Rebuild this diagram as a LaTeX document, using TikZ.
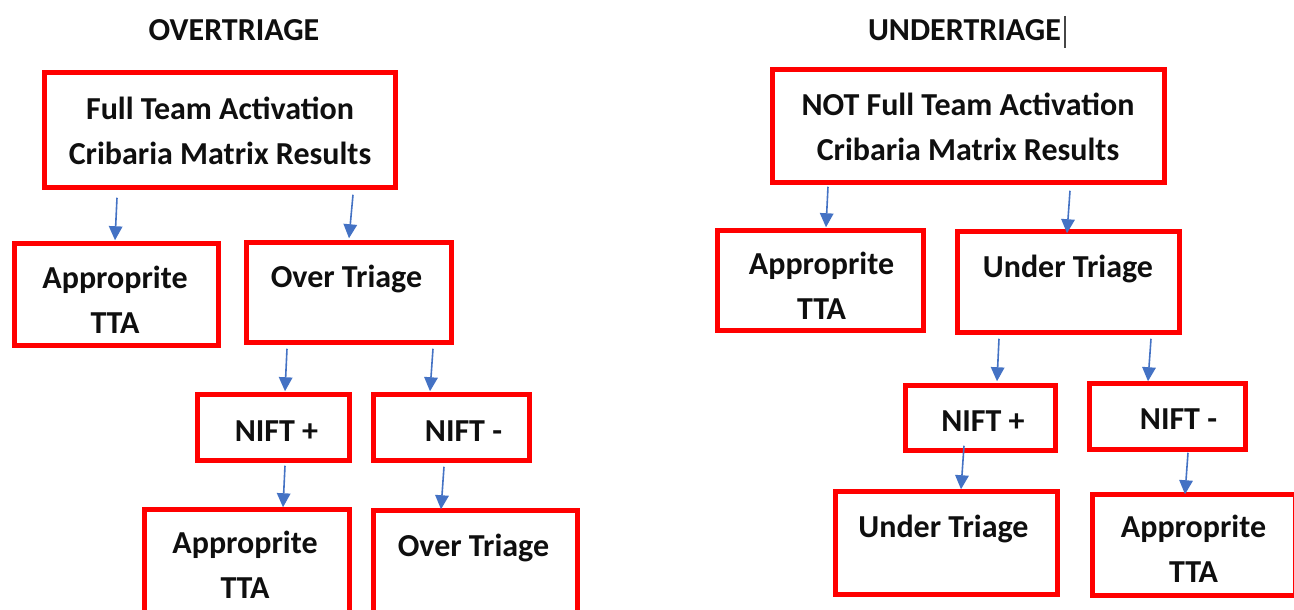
\documentclass[tikz,border=0pt]{standalone}
\usepackage{fontspec}
\setmainfont{Carlito}
\usetikzlibrary{arrows.meta,calc}
\definecolor{boxred}{RGB}{255,0,0}
\definecolor{arrblue}{RGB}{68,114,196}
\definecolor{txt}{RGB}{15,15,15}
\definecolor{cursorgray}{RGB}{70,70,70}
\begin{document}
\begin{tikzpicture}[x=1pt,y=-1pt,
  box/.style={draw=boxred,line width=5.5pt,inner sep=0pt,line join=miter},
  lbl/.style={font=\fontsize{32}{45}\selectfont\bfseries,inner sep=0pt,anchor=base,text=txt},
  arr/.style={draw=arrblue,line width=1.6pt,-{Triangle[length=14pt,width=13.5pt]}}]
\fill[white] (0,0) rectangle (1294,610);
\useasboundingbox (0,0) rectangle (1294,610);

% ---------------- OVERTRIAGE ----------------
\node[lbl] (tOver) at (234,41) {OVERTRIAGE};

\node[box,minimum width=351pt,minimum height=115pt] (A) at (220,130) {};
\node[box,minimum width=204pt,minimum height=102pt] (B) at (116.5,294.5) {};
\node[box,minimum width=205pt,minimum height=100pt] (C) at (349,292.5) {};
\node[box,minimum width=152pt,minimum height=66pt] (D) at (273.5,427.5) {};
\node[box,minimum width=156pt,minimum height=66pt] (E) at (451.5,427.5) {};
\node[box,minimum width=205pt,minimum height=106pt] (F) at (247,562.5) {};
\node[box,minimum width=204pt,minimum height=105pt] (G) at (475.5,563) {};

\node[lbl] (tA) at (220,120) {\begin{tabular}[t]{@{}c@{}}Full Team Activation\\Cribaria Matrix Results\end{tabular}};
\node[lbl] (tB) at (115,288) {\begin{tabular}[t]{@{}c@{}}Approprite\\TTA\end{tabular}};
\node[lbl] (tC) at (346.5,287) {Over Triage};
\node[lbl] (tD) at (276.5,441) {NIFT +};
\node[lbl] (tE) at (463.5,441) {NIFT -};
\node[lbl] (tF) at (245,553) {\begin{tabular}[t]{@{}c@{}}Approprite\\TTA\end{tabular}};
\node[lbl] (tG) at (473.5,556) {Over Triage};

\draw[arr] ($(A.south)+(-103,7.5)$) -- ($(B.north)+(-1.5,-0.5)$);
\draw[arr] ($(A.south)+(133,4.5)$) -- ($(C.north)+(0,-1.5)$);
\draw[arr] ($(C.south)+(-62,3.5)$) -- ($(D.north)+(11.5,-0.5)$);
\draw[arr] ($(C.south)+(84,3.5)$) -- ($(E.north)+(-21.5,-0.5)$);
\draw[arr] ($(D.south)+(11.5,2.5)$) -- ($(F.north)+(36,0.5)$);
\draw[arr] ($(E.south)+(-7.5,3.5)$) -- ($(G.north)+(-34.5,1.5)$);

% ---------------- UNDERTRIAGE ----------------
\node[lbl] (tUnder) at (964.5,41) {UNDERTRIAGE};
\draw[cursorgray,line width=2pt] (1064.5,16) -- (1064.5,48);

\node[box,minimum width=392pt,minimum height=113pt] (H) at (968.5,126) {};
\node[box,minimum width=206pt,minimum height=100pt] (I) at (820.5,280.5) {};
\node[box,minimum width=222pt,minimum height=101pt] (J) at (1068.5,282) {};
\node[box,minimum width=150pt,minimum height=65pt] (K) at (980.5,418) {};
\node[box,minimum width=156pt,minimum height=66pt] (L) at (1167.5,416.5) {};
\node[box,minimum width=222pt,minimum height=103pt] (M) at (946.5,543) {};
\node[box,minimum width=203pt,minimum height=101pt] (N) at (1194,545) {};

\node[lbl] (tH) at (968,116) {\begin{tabular}[t]{@{}c@{}}NOT Full Team Activation\\Cribaria Matrix Results\end{tabular}};
\node[lbl] (tI) at (821.5,274) {\begin{tabular}[t]{@{}c@{}}Approprite\\TTA\end{tabular}};
\node[lbl] (tJ) at (1068,277) {Under Triage};
\node[lbl] (tK) at (983,431) {NIFT +};
\node[lbl] (tL) at (1178.5,429) {NIFT -};
\node[lbl] (tM) at (943.5,537) {Under Triage};
\node[lbl] (tN) at (1193.5,537) {\begin{tabular}[t]{@{}c@{}}Approprite\\TTA\end{tabular}};

\draw[arr] ($(H.south)+(-140.5,1.5)$) -- ($(I.north)+(5.5,-0.5)$);
\draw[arr] ($(H.south)+(101.5,5.5)$) -- ($(J.north)+(-1.5,4.5)$);
\draw[arr] ($(J.south)+(-69.5,3.5)$) -- ($(K.north)+(16.5,-1.5)$);
\draw[arr] ($(J.south)+(82.5,3.5)$) -- ($(L.north)+(-19.5,0.5)$);
\draw[arr] ($(K.south)+(-16.5,-7.5)$) -- ($(M.north)+(14.5,0.5)$);
\draw[arr] ($(L.south)+(20.5,0.5)$) -- ($(N.north)+(-9,2.5)$);
\end{tikzpicture}
\end{document}
